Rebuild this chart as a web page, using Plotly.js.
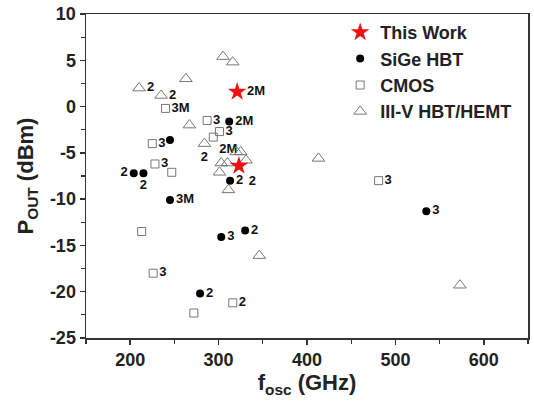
<!DOCTYPE html>
<html>
<head>
<meta charset="utf-8">
<script src="https://cdn.plot.ly/plotly-3.0.1.min.js"></script>
<style>html,body{margin:0;padding:0;background:#fff;}#chart{width:534px;height:412px;}</style>
</head>
<body>
<div id="chart"></div>
<script>
// ---- data (fosc in GHz, Pout in dBm, annotation labels) ----
const workX = [321, 323];
const workY = [1.6, -6.4];
const workLbl = ["2M", "2"];

const sigeX = [312, 245, 204, 215, 245, 313, 303, 330, 279, 535];
const sigeY = [-1.6, -3.6, -7.2, -7.2, -10.1, -8.0, -14.1, -13.4, -20.2, -11.3];
const sigeLbl = ["2M", "", "2", "2", "3M", "2", "3", "2", "2", "3"];

const cmosX = [240, 287, 301, 294, 225, 228, 247, 213, 226, 272, 316, 481];
const cmosY = [-0.2, -1.5, -2.7, -3.3, -4.0, -6.2, -7.1, -13.5, -18.0, -22.3, -21.2, -8.0];
const cmosLbl = ["3M", "3", "3", "2M", "3", "3", "", "", "3", "", "2", "3"];

const iiivX = [210, 263, 235, 267, 305, 316, 284, 320, 325, 303, 310, 331, 301, 311, 413, 346, 573];
const iiivY = [2.0, 3.0, 1.2, -2.0, 5.4, 4.8, -4.0, -4.9, -4.9, -6.1, -6.1, -5.8, -7.1, -9.0, -5.6, -16.1, -19.3];
const iiivLbl = ["2", "", "2", "", "", "", "2", "", "", "", "", "", "", "", "", "", ""];

const seriesNames = ["This Work", "SiGe HBT", "CMOS", "III-V HBT/HEMT"];
const xTicks = [200, 300, 400, 500, 600];
const yTicks = [10, 5, 0, -5, -10, -15, -20, -25];

// ---- label placement (style only) ----
const workPos = ["middle right", "bottom right"];
const sigePos = ["middle right", "middle right", "middle left", "bottom center", "middle right", "middle right", "middle right", "middle right", "middle right", "middle right"];
const cmosPos = ["middle right", "middle right", "middle right", "bottom right", "middle right", "middle right", "middle right", "middle right", "middle right", "middle right", "middle right", "middle right"];
const iiivPos = iiivLbl.map((l, i) => i === 6 ? "bottom center" : "middle right");

const FONT = "Liberation Sans, Arial, sans-serif";
const labelFont = {family: FONT, size: 13, color: "#111", weight: "bold"};

const traces = [
  {x: sigeX, y: sigeY, text: sigeLbl, textposition: sigePos, name: seriesNames[1], type: "scatter", mode: "markers+text",
   marker: {symbol: "circle", size: 8, color: "#000"}, textfont: labelFont, legendrank: 2},
  {x: cmosX, y: cmosY, text: cmosLbl, textposition: cmosPos, name: seriesNames[2], type: "scatter", mode: "markers+text",
   marker: {symbol: "square-open", size: 8, color: "#777", line: {width: 1}}, textfont: labelFont, legendrank: 3},
  {x: iiivX, y: iiivY, text: iiivLbl, textposition: iiivPos, name: seriesNames[3], type: "scatter", mode: "markers+text",
   marker: {symbol: "triangle-up-open", size: 11, color: "#777", line: {width: 1}}, textfont: labelFont, legendrank: 4},
  {x: workX, y: workY, text: workLbl, textposition: workPos, name: seriesNames[0], type: "scatter", mode: "markers+text",
   marker: {symbol: "star", size: 14, color: "#ee1111"}, textfont: labelFont, legendrank: 1}
];

const axisCommon = {
  showline: true, linecolor: "#333", linewidth: 1.5, mirror: true,
  ticks: "outside", ticklen: 5, tickwidth: 1.5, tickcolor: "#333",
  showgrid: false, zeroline: false,
  tickfont: {family: FONT, size: 18, color: "#222", weight: "bold"}
};

const layout = {
  width: 534, height: 412,
  margin: {l: 86, r: 6, t: 14, b: 74},
  paper_bgcolor: "#fff", plot_bgcolor: "#fff",
  showlegend: true,
  legend: {x: 0.575, y: 1.0, xanchor: "left", yanchor: "top", bgcolor: "rgba(0,0,0,0)",
           font: {family: FONT, size: 18, color: "#222", weight: "bold"},
           traceorder: "normal", itemsizing: "trace"},
  xaxis: Object.assign({}, axisCommon, {
    range: [150, 650], tickmode: "array", tickvals: xTicks, ticktext: xTicks.map(String),
    minor: {dtick: 50, tick0: 150, ticks: "outside", ticklen: 4, tickwidth: 1.2, tickcolor: "#333"},
    title: {text: "f<sub>osc</sub> (GHz)", font: {family: FONT, size: 22, color: "#222", weight: "bold"}, standoff: 2}
  }),
  yaxis: Object.assign({}, axisCommon, {
    range: [-25, 10], tickmode: "array", tickvals: yTicks, ticktext: yTicks.map(String),
    minor: {dtick: 2.5, tick0: -25, ticks: "outside", ticklen: 4, tickwidth: 1.2, tickcolor: "#333"},
    title: {text: "P<sub>OUT</sub> (dBm)", font: {family: FONT, size: 22, color: "#222", weight: "bold"}, standoff: 10}
  })
};

Plotly.newPlot("chart", traces, layout, {staticPlot: true, displayModeBar: false});
</script>
</body>
</html>
